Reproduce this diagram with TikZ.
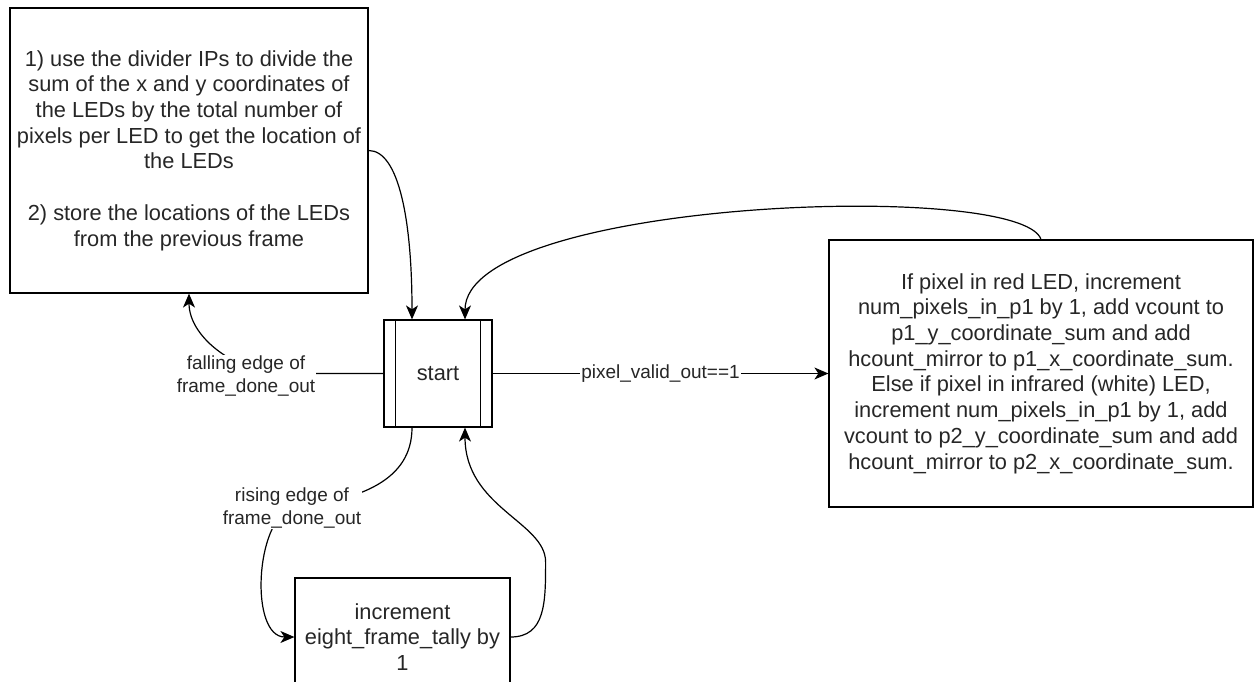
\documentclass[tikz,border=0pt]{standalone}
\usepackage{fontspec}
\setmainfont{Liberation Sans}
\usetikzlibrary{arrows.meta}

\tikzset{
  stepbox/.style={draw, line width=1.2pt, align=center, inner sep=2pt,
    font=\fontsize{21.8}{25.7}\selectfont, text=black!85},
  lbl/.style={fill=white, align=center, inner sep=1pt,
    font=\fontsize{19}{23}\selectfont, text=black!85},
  wire/.style={line width=1.2pt},
  arr/.style={wire, -{Stealth[length=14pt,width=12pt,inset=4pt]}}
}

\begin{document}
\begin{tikzpicture}[x=1pt, y=-1pt]
\useasboundingbox (0,0) rectangle (1255,682);
\clip (0,0) rectangle (1255,682);

% states
\node[stepbox, minimum width=358pt, minimum height=285pt] (divide) at (189,150.5)
  {1) use the divider IPs to divide the\\sum of the x and y coordinates of\\the LEDs by the total number of\\pixels per LED to get the location of\\the LEDs\\[25.7pt]2) store the locations of the LEDs\\from the previous frame};
\node[stepbox, minimum width=108pt, minimum height=107pt] (start) at (438,373.5) {start};
\draw[wire] ([xshift=12pt]start.north west) -- ([xshift=12pt]start.south west)
  ([xshift=-12pt]start.north east) -- ([xshift=-12pt]start.south east);
\node[stepbox, minimum width=424pt, minimum height=267pt] (accum) at (1041,373.5)
  {If pixel in red LED, increment\\num\_pixels\_in\_p1 by 1, add vcount to\\p1\_y\_coordinate\_sum and add\\hcount\_mirror to p1\_x\_coordinate\_sum.\\Else if pixel in infrared (white) LED,\\increment num\_pixels\_in\_p1 by 1, add\\vcount to p2\_y\_coordinate\_sum and add\\hcount\_mirror to p2\_x\_coordinate\_sum.};
\node[stepbox, minimum width=215pt, minimum height=118pt] (tally) at (402.5,637)
  {increment\\eight\_frame\_tally by\\1};

% transitions
\coordinate (fallpt) at (246,376);
\coordinate (risept) at (292,508);
\draw[arr] (divide.east) .. controls +(30,0) and +(0,-100) .. ([xshift=-26pt]start.north);
\draw[arr] (accum.north) .. controls +(-20,-60) and +(0,-120) .. ([xshift=27pt]start.north);
\draw[arr] (start.west) -- ++(-100,0) .. controls +(-45,0) and +(0,45) .. (divide.south);
\draw[arr] (start.east) -- (accum.west) node[lbl, midway] {pixel\_valid\_out==1};
\draw[arr] ([xshift=-26pt]start.south) .. controls +(0,53) and +(68,-8) .. (risept)
  .. controls +(-37,12) and +(-45,0) .. (tally.west);
\draw[arr] (tally.east) .. controls +(35,0) and +(0,40) .. ++(35,-75)
  .. controls +(0,-40) and +(0,80) .. ([xshift=27pt]start.south);

% edge labels
\node[lbl] (fall) at (fallpt) {falling edge of\\frame\_done\_out};
\node[lbl] (rise) at (risept) {rising edge of\\frame\_done\_out};

\end{tikzpicture}
\end{document}
